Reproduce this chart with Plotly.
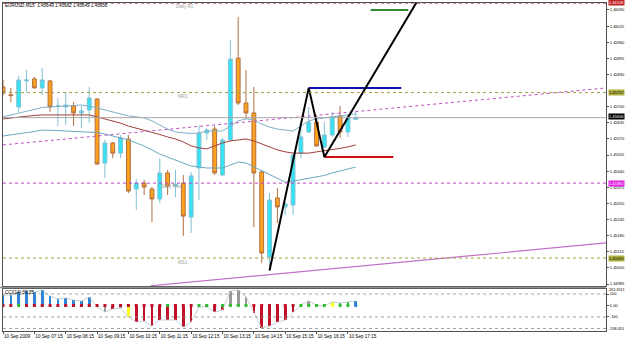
import plotly.graph_objects as go

W, H = 625, 341
# ---------------- data ----------------
bar_times = ["06:15","06:30","06:45","07:00","07:15","07:30","07:45","08:00","08:15","08:30",
             "08:45","09:00","09:15","09:30","09:45","10:00","10:15","10:30","10:45","11:00",
             "11:15","11:30","11:45","12:00","12:15","12:30","12:45","13:00","13:15","13:30",
             "13:45","14:00","14:15","14:30","14:45","15:00","15:15","15:30","15:45","16:00",
             "16:15","16:30","16:45","17:00","17:15","17:30"]
opens  = [1.45780,1.45748,1.45699,1.45804,1.45812,1.45776,1.45804,1.45703,1.45699,1.45703,
          1.45675,1.45687,1.45731,1.45473,1.45554,1.45513,1.45570,1.45368,1.45392,1.45368,
          1.45328,1.45433,1.45380,1.45392,1.45255,1.45453,1.45594,1.45610,1.45425,1.45566,
          1.45896,1.45715,1.45675,1.45437,1.45094,1.45332,1.45296,1.45304,1.45513,1.45598,
          1.45638,1.45538,1.45586,1.45663,1.45598,1.45649]
highs  = [1.45808,1.45776,1.45824,1.45848,1.45820,1.45856,1.45808,1.45735,1.45755,1.45719,
          1.45703,1.45780,1.45735,1.45566,1.45558,1.45586,1.45586,1.45409,1.45405,1.45376,
          1.45493,1.45445,1.45445,1.45425,1.45437,1.45626,1.45614,1.45622,1.45574,1.45969,
          1.46062,1.45848,1.45780,1.45445,1.45352,1.45372,1.45316,1.45513,1.45626,1.45699,
          1.45667,1.45638,1.45679,1.45703,1.45667,1.45682]
lows   = [1.45747,1.45719,1.45679,1.45759,1.45772,1.45747,1.45679,1.45622,1.45626,1.45622,
          1.45614,1.45634,1.45465,1.45413,1.45493,1.45493,1.45352,1.45284,1.45344,1.45235,
          1.45312,1.45344,1.45336,1.45179,1.45191,1.45324,1.45566,1.45425,1.45421,1.45562,
          1.45707,1.45651,1.45215,1.45070,1.45054,1.45231,1.45263,1.45263,1.45493,1.45594,
          1.45538,1.45534,1.45578,1.45574,1.45578,1.45649]
closes = [1.45755,1.45745,1.45808,1.45808,1.45776,1.45808,1.45699,1.45703,1.45707,1.45675,
          1.45683,1.45735,1.45469,1.45554,1.45513,1.45574,1.45360,1.45392,1.45376,1.45328,
          1.45433,1.45380,1.45388,1.45259,1.45421,1.45594,1.45606,1.45433,1.45566,1.45892,
          1.45715,1.45675,1.45433,1.45110,1.45324,1.45296,1.45308,1.45505,1.45578,1.45638,
          1.45542,1.45586,1.45659,1.45598,1.45659,1.45656]

band_upper = [1.45659,1.45667,1.45675,1.45683,1.45691,1.45697,1.45699,1.45701,1.45703,1.45705,
              1.45707,1.45703,1.45695,1.45687,1.45679,1.45671,1.45663,1.45659,1.45655,1.45643,
              1.45626,1.45610,1.45598,1.45594,1.45592,1.45594,1.45602,1.45602,1.45602,1.45622,
              1.45643,1.45651,1.45647,1.45630,1.45618,1.45610,1.45606,1.45602,1.45622,1.45643,
              1.45651,1.45655,1.45659,1.45663,1.45667,1.45671]
band_mid   = [1.45651,1.45655,1.45659,1.45663,1.45665,1.45667,1.45667,1.45669,1.45669,1.45667,
              1.45667,1.45667,1.45659,1.45651,1.45643,1.45634,1.45622,1.45614,1.45606,1.45598,
              1.45588,1.45578,1.45570,1.45558,1.45542,1.45534,1.45530,1.45542,1.45554,1.45562,
              1.45566,1.45570,1.45562,1.45550,1.45538,1.45526,1.45518,1.45513,1.45513,1.45513,
              1.45518,1.45522,1.45526,1.45532,1.45538,1.45546]
band_lower = [1.45582,1.45586,1.45590,1.45594,1.45600,1.45606,1.45606,1.45604,1.45602,1.45600,
              1.45598,1.45598,1.45596,1.45590,1.45582,1.45574,1.45566,1.45554,1.45542,1.45526,
              1.45509,1.45497,1.45485,1.45473,1.45461,1.45457,1.45453,1.45453,1.45453,1.45465,
              1.45477,1.45473,1.45457,1.45441,1.45425,1.45409,1.45396,1.45400,1.45405,1.45411,
              1.45417,1.45423,1.45433,1.45441,1.45449,1.45457]

cci_values = [91,91,117,126,117,135,83,57,65,48,39,74,-13,-57,-30,-22,-100,-144,-135,-178,
              -126,-126,-126,-187,-144,-13,-13,-57,-39,126,135,74,-65,-196,-178,-144,-126,-57,5,39,
              4,-4,30,22,30,39]
cci_bar_colors = ["b","b","b","b","b","b","b","b","b","b","b","b","r","g","r","g","y","r","r","r",
                  "r","r","r","r","r","n","r","r","r","g","g","g","r","r","r","r","r","r","n","g",
                  "n","n","y","n","n","b"]
cci_dot_colors = ["r","r","n","r","r","r","r","r","r","r","r","r","r","r","r","r","r","r","r","r",
                  "r","n","r","r","r","n","n","r","n","n","n","n","r","r","r","r","r","r","n","n",
                  "n","n","y","n","n","b"]

# levels / drawn objects (bar index, price)
level_r1, level_mr1, level_pivot, level_ms1 = 1.46118, 1.45757, 1.45392, 1.45090
trend_dotted = ([0, 77], [1.45546, 1.45776])
trend_solid  = ([18.8, 77], [1.44978, 1.45151])
zigzag       = ([34, 39, 41, 54], [1.45040, 1.45776, 1.45497, 1.46187])
blue_line    = ([39, 50.8], [1.45776, 1.45776])
red_line     = ([41, 49.8], [1.45497, 1.45497])
green_line   = ([46.9, 51.7], [1.46090, 1.46090])
current_price = 1.45656

price_ticks = [1.44985,1.45050,1.45115,1.45180,1.45245,1.45310,1.45375,1.45440,1.45505,1.45570,
               1.45635,1.45700,1.45830,1.45895,1.45960,1.46025,1.46090]
time_tick_idx = [0,4,8,12,16,20,24,28,32,36,40,44]
time_tick_txt = ["10 Sep 2009","10 Sep 07:15","10 Sep 08:15","10 Sep 09:15","10 Sep 10:15",
                 "10 Sep 11:15","10 Sep 12:15","10 Sep 13:15","10 Sep 14:15","10 Sep 15:15",
                 "10 Sep 16:15","10 Sep 17:15"]

# ---------------- geometry ----------------
px_left, px_right = 3, 606
main_top, main_bot = 3, 286
ind_top, ind_bot = 289, 331
x_range = [0, 76.92]
y_range = [1.449772, 1.461182]
cci_range = [-221.9, 143.6]

def fx(p): return p / W
def fy(p): return 1 - p / H

idx = list(range(len(opens)))
FONT_N = "Liberation Sans Narrow, Liberation Sans, Arial, sans-serif"
FONT = "Liberation Sans, Arial, sans-serif"
colmap = {"b": "#2f86d6", "r": "#c0102a", "g": "#9a9a9a", "y": "#ffff20", "n": "#33bb33"}

fig = go.Figure()
fig.add_trace(go.Candlestick(
    x=idx, open=opens, high=highs, low=lows, close=closes,
    increasing=dict(fillcolor="#35e3f4", line=dict(color="#7fc2d4", width=1)),
    decreasing=dict(fillcolor="#ffa11c", line=dict(color="#b07040", width=1)),
    whiskerwidth=0, xaxis="x", yaxis="y", showlegend=False))

for arr, col in [(band_upper, "#7fb0c8"), (band_mid, "#a0403a"), (band_lower, "#6ea8c0")]:
    fig.add_trace(go.Scatter(x=idx, y=arr, mode="lines", line=dict(color=col, width=1),
                             xaxis="x", yaxis="y", showlegend=False, hoverinfo="skip"))

fig.add_trace(go.Scatter(x=trend_dotted[0], y=trend_dotted[1], mode="lines",
                         line=dict(color="#c050c0", width=1, dash="dot"), xaxis="x", yaxis="y", showlegend=False))
fig.add_trace(go.Scatter(x=trend_solid[0], y=trend_solid[1], mode="lines",
                         line=dict(color="#c070c8", width=1.2), xaxis="x", yaxis="y", showlegend=False))
for seg, col, wd in [(blue_line, "#1010b0", 2), (red_line, "#d01010", 2), (green_line, "#2e8b2e", 2),
                     (zigzag, "#000000", 2)]:
    fig.add_trace(go.Scatter(x=seg[0], y=seg[1], mode="lines", line=dict(color=col, width=wd),
                             xaxis="x", yaxis="y", showlegend=False, cliponaxis=True))

# CCI panel
fig.add_trace(go.Bar(x=idx, y=cci_values, marker=dict(color=[colmap[c] for c in cci_bar_colors], line=dict(width=0)),
                     width=0.34, xaxis="x2", yaxis="y2", showlegend=False))
fig.add_trace(go.Scatter(x=idx, y=cci_values, mode="lines", line=dict(color="#b8c4cc", width=0.8),
                         xaxis="x2", yaxis="y2", showlegend=False))
fig.add_trace(go.Scatter(x=idx, y=[0]*len(idx), mode="markers",
                         marker=dict(symbol="square", size=3, color=[colmap[c] for c in cci_dot_colors], line=dict(width=0)),
                         xaxis="x2", yaxis="y2", showlegend=False))

shapes = []
for lv, col in [(level_r1, "#a03030"), (level_mr1, "#a0a040"), (level_pivot, "#c040c0"), (level_ms1, "#a0a040")]:
    shapes.append(dict(type="line", xref="x domain", yref="y", x0=0, x1=1, y0=lv, y1=lv,
                       line=dict(color=col, width=1, dash="dot")))
shapes.append(dict(type="line", xref="x domain", yref="y", x0=0, x1=1, y0=current_price, y1=current_price,
                   line=dict(color="#a8a8a8", width=1)))
for lv in [100, -100, -200]:
    shapes.append(dict(type="line", xref="x2 domain", yref="y2", x0=0, x1=1, y0=lv, y1=lv,
                       line=dict(color="#8a8a8a", width=0.8, dash="dot")))
shapes.append(dict(type="line", xref="paper", yref="paper", x0=0, x1=fx(px_right), y0=fy(287.5), y1=fy(287.5),
                   line=dict(color="#909090", width=1.5)))

annotations = []
def ann(x, y, text, color="#000000", size=4.6, bg=None, xanchor="left", family=FONT):
    annotations.append(dict(x=fx(x), y=fy(y), xref="paper", yref="paper", text=text, showarrow=False,
                            xanchor=xanchor, yanchor="middle", font=dict(family=family, size=size, color=color),
                            bgcolor=bg, borderpad=0))
ann(4, 6, "EURUSD,M15  1.45649 1.45682 1.45649 1.45656", size=4.6)
ann(175, 7, "Daily R1", "#a0a0a0")
ann(177, 97, "MR1", "#a0a0a0")
ann(160, 187, "Daily Pivot", "#a0a0a0")
ann(177, 262, "MS1", "#a0a0a0")
ann(4, 292, "CCI(14) 39.25", "#000000")
LS = 4.0
ann(607.5, 2.5, "1.46118", "#ffffff", size=LS, bg="#c02020", family=FONT_N)
ann(607.5, 92.5, "1.45757", "#000000", size=LS, bg="#b0b040", family=FONT_N)
ann(607.5, 117, "1.45656", "#ffffff", size=LS, bg="#000000", family=FONT_N)
ann(607.5, 183, "1.45392", "#ffffff", size=LS, bg="#e020e0", family=FONT_N)
ann(607.5, 258, "1.45090", "#000000", size=LS, bg="#b0b040", family=FONT_N)
ann(607.5, 290, "262.6511", "#000000", size=3.8, family=FONT_N)
ann(607.5, 328.5, "-208.455", "#000000", size=3.8, family=FONT_N)

axis_common = dict(automargin=False, showgrid=False, zeroline=False, showline=True, mirror=True,
                   linecolor="#505050", linewidth=1, tickcolor="#505050")
fig.update_layout(
    width=W, height=H, margin=dict(l=0, r=0, t=0, b=0, autoexpand=False),
    paper_bgcolor="white", plot_bgcolor="white",
    font=dict(family=FONT, size=5, color="#000000"),
    showlegend=False, bargap=0,
    xaxis=dict(domain=[fx(px_left), fx(px_right)], range=x_range, anchor="y",
               showticklabels=False, rangeslider=dict(visible=False), ticks="", **axis_common),
    yaxis=dict(domain=[fy(main_bot), fy(main_top)], range=y_range, anchor="x", side="right",
               tickvals=price_ticks, ticktext=[f"{v:.5f}" for v in price_ticks],
               tickfont=dict(size=LS, family=FONT_N), ticks="outside", ticklen=2, **axis_common),
    xaxis2=dict(domain=[fx(px_left), fx(px_right)], range=x_range, anchor="y2", matches="x",
                tickvals=time_tick_idx, ticktext=time_tick_txt, ticklabelposition="outside right",
                tickangle=0, tickfont=dict(size=4.6, family=FONT), ticks="outside", ticklen=2, **axis_common),
    yaxis2=dict(domain=[fy(ind_bot), fy(ind_top)], range=cci_range, anchor="x2", side="right",
                tickvals=[100, 0, -100], ticktext=["100", "0.00", "-100"],
                tickfont=dict(size=LS, family=FONT_N), ticks="outside", ticklen=2, **axis_common),
    shapes=shapes, annotations=annotations,
)
fig.write_html("out.html")
